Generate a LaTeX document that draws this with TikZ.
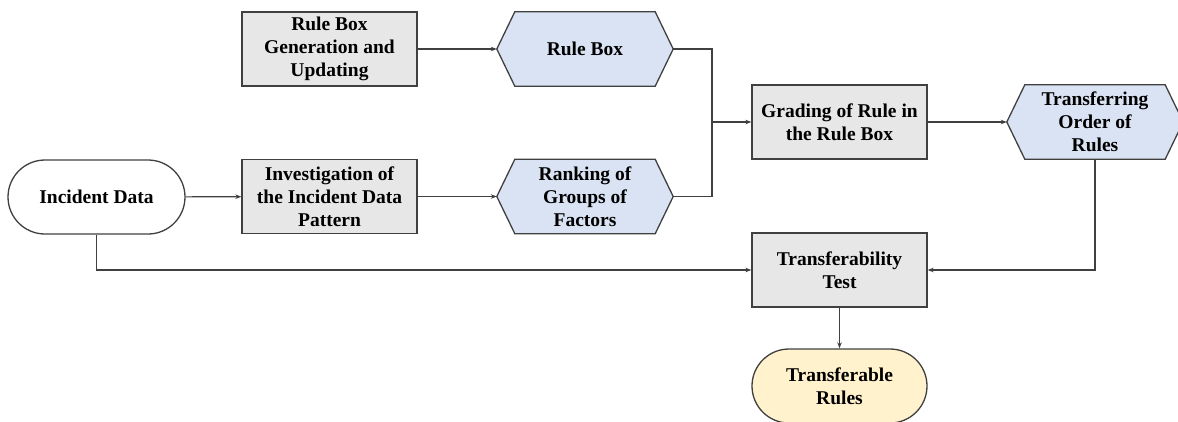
\documentclass[tikz,border=0pt]{standalone}
\usepackage{fontspec}
\setmainfont{Liberation Serif}
\usetikzlibrary{shapes.misc,arrows.meta,backgrounds}
\definecolor{edge}{HTML}{404040}
\definecolor{greyfill}{HTML}{E7E7E7}
\definecolor{bluefill}{HTML}{DAE3F3}
\definecolor{yellowfill}{HTML}{FFF2CC}
\tikzset{
  base/.style={align=center, inner sep=0pt, minimum width=175pt, minimum height=74pt,
    font=\fontsize{19.5}{23}\selectfont\bfseries, text=black},
  procbox/.style={base, draw=edge, line width=1.3pt, fill=greyfill},
  termbox/.style={base, rounded rectangle, draw=edge, line width=1.3pt},
  hexnode/.style={base},
  hexframe/.style={draw=edge, line width=1.3pt, fill=bluefill},
  flow/.style={draw=edge, line width=1.1pt, -{Stealth[length=6pt,width=4.5pt]}},
  link/.style={draw=edge, line width=1.1pt}
}
% hexagonal outline behind a named node
\newcommand{\hexoutline}[1]{%
  \path[hexframe] (#1.west) -- ([xshift=18pt]#1.north west) -- ([xshift=-18pt]#1.north east)
    -- (#1.east) -- ([xshift=-18pt]#1.south east) -- ([xshift=18pt]#1.south west) -- cycle;}
\begin{document}
\begin{tikzpicture}[x=1pt,y=-1pt]
\useasboundingbox (0,0) rectangle (1178,421);

\node[termbox, minimum width=177pt] (inc) at (96.5,197) {Incident Data};
\node[procbox] (gen) at (329.5,49) {Rule Box\\Generation and\\Updating};
\node[procbox] (inv) at (329.5,196.5) {Investigation of\\the Incident Data\\Pattern};
\node[hexnode, minimum width=176pt] (rb) at (585,49) {Rule Box};
\node[hexnode, minimum width=176pt] (rank) at (585,196.5) {Ranking of\\Groups of\\Factors};
\node[procbox] (grad) at (839.5,122) {Grading of Rule in\\the Rule Box};
\node[hexnode, minimum width=176pt] (tor) at (1095,122) {Transferring\\Order of\\Rules};
\node[procbox] (test) at (839.5,270) {Transferability\\Test};
\node[termbox, fill=yellowfill] (out) at (839.5,386) {Transferable\\Rules};

\begin{scope}[on background layer]
  \hexoutline{rb}
  \hexoutline{rank}
  \hexoutline{tor}
\end{scope}

\coordinate (join) at (712,122);
\draw[flow] (gen) -- (rb);
\draw[flow] (inc) -- (inv);
\draw[flow] (inv) -- (rank);
\draw[link] (rb.east) -| (join);
\draw[link] (rank.east) -| (join);
\draw[flow] (join) -- (grad);
\draw[flow] (grad) -- (tor);
\draw[flow] (tor.south) |- (test.east);
\draw[flow] (inc.south) |- (test.west);
\draw[flow] (test) -- (out);
\end{tikzpicture}
\end{document}
